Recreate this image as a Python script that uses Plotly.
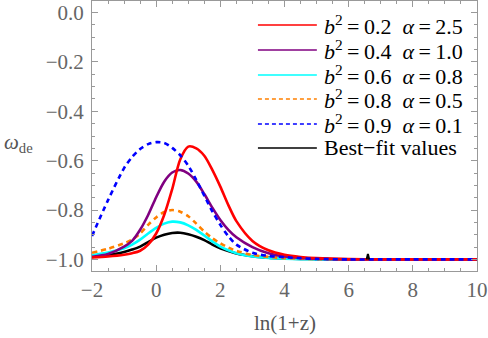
import plotly.graph_objects as go

# ln(1+z) grid shared by all curves
X = [-2, -1.5, -1, -0.75, -0.5, -0.25, 0, 0.25, 0.5, 0.75, 1, 1.25, 1.5, 1.75,
     2, 2.25, 2.5, 3, 3.5, 4, 4.5, 5, 6, 7, 8, 9, 10]

w_red = [-0.992, -0.988, -0.981, -0.975, -0.965, -0.94, -0.895, -0.82, -0.715, -0.595,
         -0.543, -0.55, -0.58, -0.637, -0.705, -0.78, -0.845, -0.925, -0.963, -0.981,
         -0.99, -0.995, -0.999, -1.0, -1.0, -1.0, -1.0]
w_purple = [-0.99, -0.978, -0.948, -0.925, -0.88, -0.82, -0.748, -0.685, -0.648, -0.638,
            -0.652, -0.685, -0.735, -0.79, -0.84, -0.88, -0.91, -0.95, -0.975, -0.988,
            -0.994, -0.997, -1.0, -1.0, -1.0, -1.0, -1.0]
w_cyan = [-0.983, -0.972, -0.955, -0.94, -0.92, -0.895, -0.872, -0.855, -0.847, -0.85,
          -0.862, -0.88, -0.903, -0.927, -0.948, -0.963, -0.975, -0.988, -0.994, -0.997,
          -0.999, -1.0, -1.0, -1.0, -1.0, -1.0, -1.0]
w_orange = [-0.973, -0.957, -0.935, -0.92, -0.895, -0.86, -0.83, -0.808, -0.8, -0.807,
            -0.825, -0.855, -0.887, -0.914, -0.935, -0.952, -0.965, -0.982, -0.99, -0.995,
            -0.997, -0.999, -1.0, -1.0, -1.0, -1.0, -1.0]
w_blue = [-0.905, -0.76, -0.63, -0.585, -0.553, -0.533, -0.525, -0.528, -0.548, -0.578,
          -0.62, -0.678, -0.742, -0.805, -0.86, -0.906, -0.94, -0.973, -0.986, -0.991,
          -0.995, -0.998, -1.0, -1.0, -1.0, -1.0, -1.0]
w_black = [-0.99, -0.982, -0.97, -0.96, -0.948, -0.93, -0.912, -0.9, -0.893, -0.892,
           -0.898, -0.908, -0.922, -0.94, -0.955, -0.966, -0.976, -0.987, -0.993, -0.996,
           -0.998, -0.999, -1.0, -1.0, -1.0, -1.0, -1.0]

# small glitch on the best-fit curve
spike_x = [6.56, 6.6, 6.64]
spike_y = [-1.0, -0.978, -1.0]

labels = [
    "<i>b</i><sup>2</sup>\u2009=\u20090.2\u2002<i>α</i>\u2009=\u20092.5",
    "<i>b</i><sup>2</sup>\u2009=\u20090.4\u2002<i>α</i>\u2009=\u20091.0",
    "<i>b</i><sup>2</sup>\u2009=\u20090.6\u2002<i>α</i>\u2009=\u20090.8",
    "<i>b</i><sup>2</sup>\u2009=\u20090.8\u2002<i>α</i>\u2009=\u20090.5",
    "<i>b</i><sup>2</sup>\u2009=\u20090.9\u2002<i>α</i>\u2009=\u20090.1",
    "Best\u2212fit values",
]
series = [w_red, w_purple, w_cyan, w_orange, w_blue, w_black]
colors = ["#ff0000", "#800080", "#00ffff", "#ff8000", "#0000ff", "#000000"]
dashes = ["solid", "solid", "solid", "5px,4px", "5px,4px", "solid"]

FONT = "Liberation Serif"
GRAY = "#999999"

fig = go.Figure()
# draw order: black at the back
for i in [5, 2, 3, 1, 0, 4]:
    fig.add_trace(go.Scatter(
        x=X, y=series[i], mode="lines", showlegend=False, hoverinfo="skip",
        line=dict(color=colors[i], width=2.6, dash=dashes[i], shape="spline", smoothing=0.8),
    ))
fig.add_trace(go.Scatter(x=spike_x, y=spike_y, mode="lines", showlegend=False, hoverinfo="skip",
                         line=dict(color="black", width=2)))

# hand-made legend so the line samples are long like the original
row_y = [0.911, 0.8185, 0.726, 0.637, 0.544, 0.456]
for i, lab in enumerate(labels):
    fig.add_shape(type="line", xref="paper", yref="paper",
                  x0=0.431, x1=0.584, y0=row_y[i], y1=row_y[i],
                  line=dict(color=colors[i], width=1.5, dash="4px,3px" if dashes[i] != "solid" else "solid"))
    fig.add_annotation(x=0.597, y=row_y[i], xref="paper", yref="paper", text=lab,
                       showarrow=False, xanchor="left", yanchor="middle",
                       font=dict(family=FONT, size=22, color="black"))

fig.add_annotation(x=0, y=0.475, xref="paper", yref="paper", xshift=-74,
                   text="<i>ω</i><sub>de</sub>", showarrow=False, xanchor="center", yanchor="middle",
                   font=dict(family=FONT, size=21, color="#555555"))
fig.add_annotation(x=0.5, y=0, xref="paper", yref="paper", yshift=-52,
                   text="ln(1+z)", showarrow=False, xanchor="center", yanchor="middle",
                   font=dict(family=FONT, size=21, color="#555555"))

axis_common = dict(
    showline=True, linecolor=GRAY, linewidth=1, mirror="ticks",
    ticks="inside", ticklen=6, tickcolor=GRAY, tickwidth=1,
    showgrid=False, zeroline=False,
    tickfont=dict(family=FONT, size=21, color="#666666"),
)
fig.update_xaxes(range=[-2, 10], dtick=2, tick0=0,
                 minor=dict(ticks="inside", ticklen=3, dtick=0.5, tickcolor=GRAY, showgrid=False),
                 **axis_common)
fig.update_yaxes(range=[-1.047, 0.047], dtick=0.2, tick0=0, tickformat=".1f", ticklabelstandoff=3,
                 minor=dict(ticks="inside", ticklen=3, dtick=0.05, tickcolor=GRAY, showgrid=False),
                 **axis_common)

fig.update_layout(width=488, height=338, margin=dict(l=92, r=11, t=1, b=67),
                  font=dict(family=FONT, size=21, color="#666666"),
                  plot_bgcolor="white", paper_bgcolor="white")
fig.write_html("out.html", config={"displayModeBar": False},
               post_script="document.body.style.margin='0px';")
